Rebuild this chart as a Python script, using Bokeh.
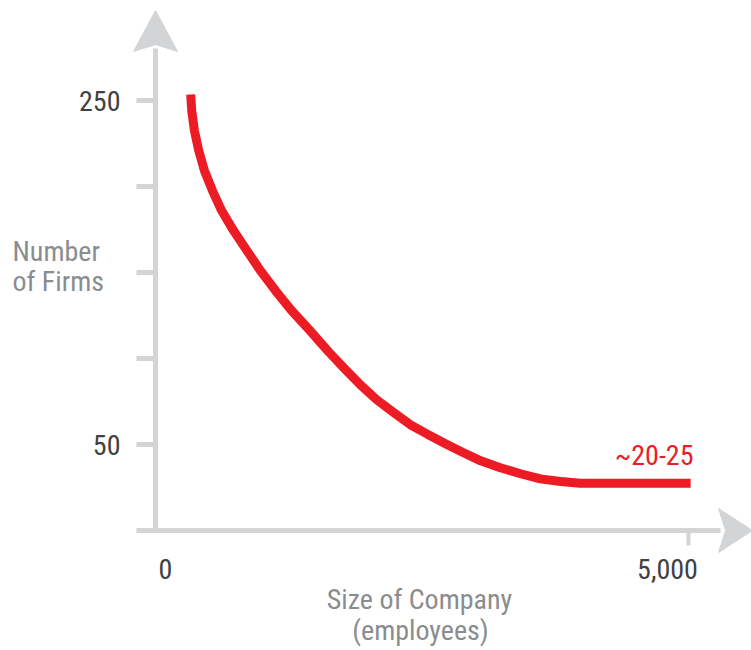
from bokeh.plotting import figure
from bokeh.models import Range1d
from bokeh.core.properties import value
from bokeh.embed import file_html
from bokeh.resources import INLINE

# ---------------- data ----------------
company_size = [330, 340, 365, 405, 460, 535, 620, 730, 855, 985, 1125, 1275,
                1445, 1615, 1775, 1925, 2075, 2235, 2390, 2550, 2720, 2880,
                3050, 3235, 3425, 3610, 3800, 3985, 5020]
num_firms = [253.5, 244, 232.5, 221, 209, 197.5, 186, 174.5, 163, 151, 139.5,
             128, 116.5, 104.5, 94, 84.5, 76, 68.5, 61.5, 56, 50.5, 45.5,
             40.5, 36.5, 33, 30, 28.5, 27.5, 27.5]

y_ticks = [50, 100, 150, 200, 250]
y_tick_labels = ["50", "", "", "", "250"]
x_ticks = [0, 5000]
x_tick_labels = ["0", "5,000"]
annotation_text = "~20-25"
x_title_lines = ["Size of Company", "(employees)"]
y_title_lines = ["Number", "of Firms"]

# ---------------- layout / style ----------------
W, H = 751, 650
OX, OY = 155, 530          # figure-pixel position of the data origin
SX = 533 / 5000            # pixels per employee
SY = 344 / 200             # pixels per firm

RED = "#ed1c24"
AXIS = "#d3d4d6"
NUM = "#414042"
TITLE = "#8b8c8f"
FONT = value("'Roboto Condensed', 'Liberation Sans Narrow', 'DejaVu Sans Condensed', sans-serif")


def dx(px):
    return (px - OX) / SX


def dy(py):
    return (OY - py) / SY


p = figure(width=W, height=H,
           x_range=Range1d(dx(0), dx(W)), y_range=Range1d(dy(H), dy(0)),
           x_axis_location=None, y_axis_location=None,
           output_backend="svg", toolbar_location=None,
           min_border=0, min_border_left=0, min_border_right=0,
           min_border_top=0, min_border_bottom=0)
p.grid.visible = False
p.outline_line_color = None
p.background_fill_color = "white"
p.border_fill_color = "white"

# axis lines
p.segment(x0=[0], y0=[dy(OY + 2.5)], x1=[0], y1=[dy(48)],
          line_color=AXIS, line_width=5, line_cap="butt")
p.segment(x0=[dx(136)], y0=[0], x1=[dx(720)], y1=[0],
          line_color=AXIS, line_width=5, line_cap="butt")

# y ticks
p.segment(x0=[dx(136)] * len(y_ticks), y0=y_ticks,
          x1=[0] * len(y_ticks), y1=y_ticks,
          line_color=AXIS, line_width=5, line_cap="butt")
# x tick (at 5,000 only)
p.segment(x0=[x_ticks[1]], y0=[0], x1=[x_ticks[1]], y1=[dy(OY + 15)],
          line_color=AXIS, line_width=4, line_cap="butt")

# arrow heads
v_head_x = [dx(OX), dx(OX + 22), dx(OX), dx(OX - 22)]
v_head_y = [dy(10), dy(51), dy(44), dy(51)]
h_head_x = [dx(752), dx(718), dx(725), dx(718)]
h_head_y = [dy(OY), dy(OY + 22), dy(OY), dy(OY - 22)]
p.patches(xs=[v_head_x, h_head_x], ys=[v_head_y, h_head_y],
          fill_color=AXIS, line_color=AXIS, line_width=1)

# the curve
p.line(company_size, num_firms, line_color=RED, line_width=9,
       line_join="round", line_cap="butt")

# y tick labels
lab_y = [v for v, t in zip(y_ticks, y_tick_labels) if t]
lab_t = [t for t in y_tick_labels if t]
p.text(x=[dx(120)] * len(lab_y), y=lab_y, text=lab_t,
       text_align="right", text_baseline="middle",
       text_font=FONT, text_font_size="28px", text_color=NUM)

# x tick labels
p.text(x=x_ticks, y=[dy(568)] * len(x_ticks), text=x_tick_labels,
       x_offset=[10, -21],
       text_align="center", text_baseline="middle",
       text_font=FONT, text_font_size="28px", text_color=NUM)

# annotation
p.text(x=[dx(693)], y=[dy(455)], text=[annotation_text],
       text_align="right", text_baseline="middle",
       text_font=FONT, text_font_size="28px", text_color=RED)

# axis titles
p.text(x=[dx(419), dx(420)], y=[dy(599), dy(630)], text=x_title_lines,
       text_align="center", text_baseline="middle",
       text_font=FONT, text_font_size="28px", text_color=TITLE)
p.text(x=[dx(12), dx(12)], y=[dy(251), dy(281)], text=y_title_lines,
       text_align="left", text_baseline="middle",
       text_font=FONT, text_font_size="28px", text_color=TITLE)

open("out.html", "w").write(file_html(p, INLINE))
